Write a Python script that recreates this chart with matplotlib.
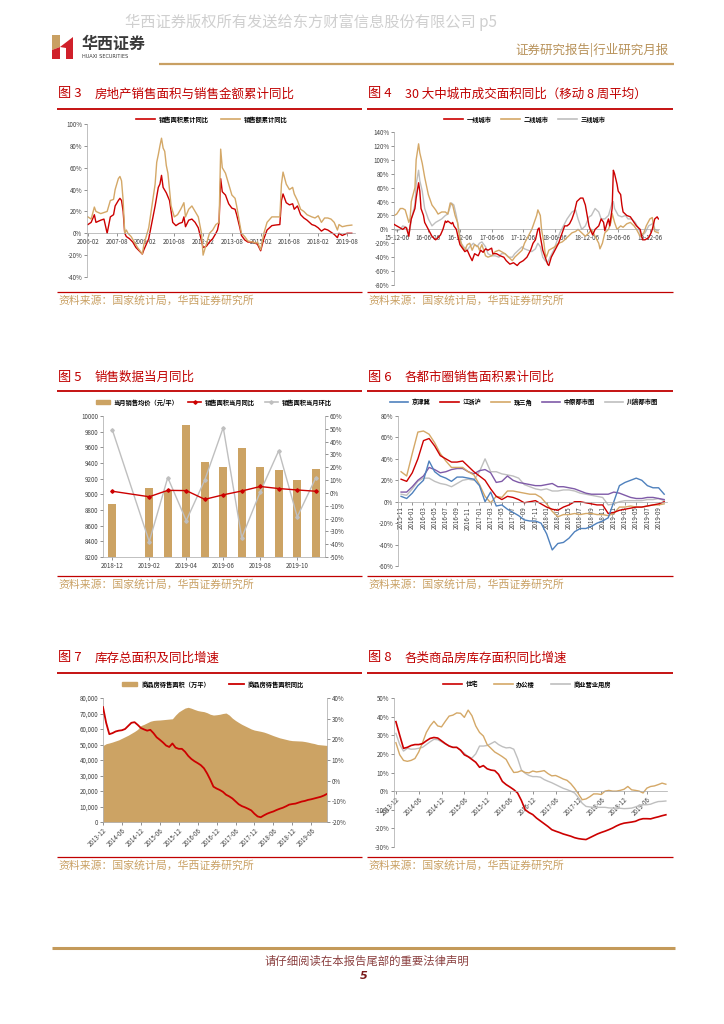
import matplotlib
matplotlib.use('Agg')
import matplotlib.pyplot as plt
import numpy as np
import pandas as pd
from matplotlib.lines import Line2D
from matplotlib.patches import Polygon, Patch
from matplotlib.ticker import FuncFormatter, MultipleLocator

plt.rcParams['font.family'] = ['Noto Sans CJK SC', 'DejaVu Sans']
plt.rcParams['axes.unicode_minus'] = False

# ---------------- data ----------------
# Fig 3 : months since 2006-02
fig3_tick_labels = ['2006-02', '2007-08', '2009-02', '2010-08', '2012-02', '2013-08',
                    '2015-02', '2016-08', '2018-02', '2019-08']
fig3_area_month = [0,2,4,5,8,10,12,14,16,17,19,20,21,22,23,24,26,28,30,32,34,35,38,40,42,44,45,46,47,49,
                   51,52,53,55,57,59,60,61,63,65,67,69,72,74,76,78,80,81,82,83,84,86,88,90,92,93,95,96,98,100,
                   103,106,108,110,112,115,117,120,121,122,124,126,128,129,131,133,135,137,140,142,
                   144,146,148,150,152,154,156,157,159,162,165]
fig3_area = [8,10,17,10,12,13,0,15,17,25,30,32,30,20,0,-3,-5,-8,-13,-16,-19,-15,-5,10,25,42,45,53,42,37,
             30,20,10,7,9,10,15,6,12,13,10,5,-13,-12,-8,-5,0,3,10,50,38,35,27,23,22,17,5,-2,-6,-8,
             -8,-10,-16,-5,3,7,7.5,8,30,36,28,26,27,22,25,17,14,12,8,7,
             5,2,4,3,1,-1,-4,0,-2,0,0]
fig3_amt_month = [0,2,4,5,8,10,12,13,14,16,17,19,20,21,22,23,24,25,27,29,31,33,34,35,38,40,42,43,44,45,
                  46,47,48,49,50,51,52,54,56,58,60,61,63,65,67,69,71,72,74,76,78,80,82,83,84,86,88,90,92,93,
                  95,96,98,100,103,105,106,108,110,112,115,117,120,121,122,124,126,128,129,131,
                  133,135,137,140,142,144,146,148,150,152,154,156,157,159,162,165]
fig3_amt = [15,13,24,20,18,19,20,25,30,31,40,50,52,48,30,0,3,0,-3,-8,-13,-17,-19,-10,5,25,45,65,72,80,
            87,78,75,62,55,40,25,15,17,22,28,15,22,25,20,15,0,-20,-10,0,3,8,10,77,60,55,45,35,32,25,
            8,0,-3,-7,-8,-9,-8,-15,0,10,15,15,15,45,56,45,40,42,36,30,
            22,20,17,15,14,16,10,14,14,13,10,3,8,6,7,7.5]

# Fig 4 : weeks since 2015-12-06
fig4_tick_labels = ['15-12-06', '16-06-06', '16-12-06', '17-06-06', '17-12-06',
                    '18-06-06', '18-12-06', '19-06-06', '19-12-06']
fig4_t1_week = [-2,0,3,5,7,8,10,11,12,15,16,18,19,20,22,23,26,29,32,34,36,38,40,41,42,45,46,47,49,51,
                52,54,56,58,60,62,64,67,69,71,73,75,78,79,82,85,88,90,93,96,99,101,104,107,110,112,114,116,117,118,
                120,122,124,125,127,130,133,136,138,140,142,144,146,148,151,153,155,156,158,159,
                161,163,166,168,170,171,173,174,175,177,178,179,181,182,184,185,186,189,192,195,
                197,200,202,204,207,209,210,212,214,215]
fig4_t1 = [7,5,2,0,3,2,-10,5,15,30,45,67,55,30,20,10,0,-10,-15,-12,-8,0,12,10,12,8,10,5,0,-15,
           -22,-27,-32,-30,-38,-45,-35,-38,-30,-33,-28,-30,-27,-35,-35,-38,-40,-45,-50,-48,-52,-48,-45,-40,-30,-20,-15,0,2,-10,
           -30,-40,-50,-52,-40,-30,-20,-5,5,5,8,15,25,40,45,45,35,25,5,0,
           -8,0,5,15,10,-2,10,15,5,30,85,80,65,55,50,35,25,20,18,10,
           5,0,-15,-15,-12,-5,0,15,18,15]
fig4_t2_week = [-2,0,3,5,7,10,11,12,15,16,18,19,21,23,26,29,32,34,37,40,42,44,46,48,50,52,54,56,58,60,
                62,64,67,68,70,73,75,78,81,84,86,89,92,95,97,100,103,105,108,111,113,115,116,118,119,121,122,123,125,127,
                130,133,136,138,141,144,147,149,152,155,158,160,163,166,167,169,171,174,176,177,
                179,181,184,186,189,192,195,197,200,203,205,208,210,211,212,215]
fig4_t2 = [20,22,30,30,28,10,15,40,60,100,123,110,95,75,50,35,28,22,25,25,22,38,35,20,10,-15,-25,-30,-22,-20,
           -30,-22,-25,-30,-22,-38,-40,-38,-32,-30,-32,-35,-40,-45,-40,-35,-30,-20,-10,0,10,20,28,20,0,-20,-35,-40,-30,-28,
           -25,-20,-18,-15,-10,-5,-3,0,-5,-10,-5,0,-10,-20,-28,-20,-5,0,10,23,
           10,0,5,3,8,10,5,0,-10,-5,5,15,17,5,-3,-5]
fig4_t3_week = [-2,0,3,5,8,10,11,12,15,16,18,19,21,23,26,29,32,34,37,40,42,45,47,49,51,53,55,58,60,63,
                66,68,70,73,75,78,81,84,86,89,92,95,97,100,103,105,108,111,114,116,118,120,122,124,126,129,132,134,137,140,
                142,144,147,149,152,155,158,160,163,166,168,171,174,177,178,179,182,185,188,190,
                193,196,199,201,204,207,210,211,212,214,215]
fig4_t3 = [0,-2,0,5,3,-5,0,15,35,65,85,70,55,30,15,5,10,12,15,20,22,38,35,20,0,-20,-25,-30,-25,-20,
           -25,-20,-18,-25,-35,-38,-38,-40,-35,-35,-40,-40,-35,-30,-25,-28,-30,-32,-28,-20,-25,-40,-45,-48,-40,-30,-15,-5,5,15,
           20,25,28,15,0,5,18,20,30,25,15,15,20,38,40,30,20,18,20,15,
           15,10,0,-10,-5,5,8,10,0,-2,-2]

# Fig 5
fig5_months = ['2018-12', '2019-01', '2019-02', '2019-03', '2019-04', '2019-05', '2019-06',
               '2019-07', '2019-08', '2019-09', '2019-10', '2019-11']
fig5_price = [8880, np.nan, 9080, 9040, 9880, 9410, 9345, 9590, 9350, 9310, 9185, 9320]
fig5_yoy = [1.3, np.nan, -3, 2, 1.8, -5, -1.5, 1.5, 5, 3.4, 2.3, 1.3]
fig5_mom = [49.4, np.nan, -38, 12, -21.6, 10, 51, -35, 0.8, 33, -18.7, 11.7]

# Fig 6 : monthly 2015-11 .. 2019-10
fig6_months = [p.strftime('%Y-%m') for p in pd.period_range('2015-11', '2019-10', freq='M')]
fig6_jjj = [5,3,8,15,20,38,28,24,22,19,23,23,22,21,15,0,9,-4,-3,-7,-10,-13,-17,-18,-18,-20,-30,-45,-39,-38,
            -34,-28,-25,-25,-23,-20,-18,-15,0,15,18,20,22,20,15,13,13,7]
fig6_jzh = [21,19,27,40,57,59,52,43,40,37,37,38,33,28,24,20,12,5,2,5,4,2,-1,0,1,-2,-5,-7,-8,-5,
            -3,0,0,-1,-2,-3,-3,-11,-10,-8,-7,-6,-5,-5,-4,-3,-2,0]
fig6_zsj = [28,24,45,65,66,63,55,45,38,32,32,32,28,25,16,5,-1,5,4,10,10,9,8,7,7,4,-2,-9,-14,-12,
            -12,-11,-12,-11,-11,-12,-12,-13,-11,-5,-5,-4,-5,-5,-4,-3,-3,-2]
fig6_zy = [9,9,14,20,24,32,30,27,28,30,31,31,28,26,29,30,27,18,19,24,20,18,17,16,15,15,16,17,14,14,
           13,12,10,8,7,7,7,7,9,8,6,4,3,3,4,4,3,2]
fig6_cy = [7,6,12,19,22,22,19,17,16,14,17,20,21,20,28,40,28,28,26,25,24,22,16,14,12,11,12,10,10,11,
           11,10,8,7,6,5,4,-3,-2,0,1,1,1,1,2,2,3,1]

# Fig 7 / Fig 8 : monthly 2013-12 .. 2019-11
inv_months = [p.strftime('%Y-%m') for p in pd.period_range('2013-12', '2019-11', freq='M')]
fig7_area = [49.3, 50.5,51.0,51.6,52.3,53.0,54.0,55.0,56.0,57.2,58.4,59.8,62.2,
             63.0,64.0,65.0,65.5,65.7,65.8,66.0,66.2,66.4,66.6,69.0,71.0,
             72.3,73.5,74.0,73.4,72.6,71.9,71.5,71.2,70.5,69.5,69.0,69.2,
             69.5,70.0,70.3,69.0,67.0,65.5,64.2,63.0,62.0,61.0,60.0,59.3,
             58.9,58.5,58.0,57.3,56.5,55.7,55.0,54.3,53.8,53.3,52.8,52.5,
             52.4,52.3,52.2,51.9,51.5,51.0,50.6,50.0,49.8,49.6,49.4]
fig7_area = [v * 1000 for v in fig7_area]
fig7_yoy = [35.6,28,22.5,23,23.8,24.2,24.4,25,26.5,28,28.3,27,25.5,24.8,24.2,24.6,23,21,19.8,18.5,
            17,16.3,18,16,15.4,15.4,14,12,10.5,9.4,8.5,7.5,6,3.5,0.5,-2.9,-3.8,-4.5,-5.4,-6.8,
            -7.6,-8.6,-10,-11.4,-12.3,-12.9,-13.6,-14.4,-16,-17.3,-17.7,-16.8,-16,-15.4,-14.9,-14.2,-13.6,-13.1,-12.4,-11.6,
            -11.3,-11.1,-10.6,-10.1,-9.8,-9.3,-9.0,-8.6,-8.2,-7.8,-7.2,-6.4]
fig8_res = [37.3,30,23,23.5,24.5,25,25,25.5,27,28.3,28.8,28.5,27,25.5,24.2,23.5,23.5,22,19.5,18.5,
            17,15.5,12.8,13.7,12,11.3,11,9,5.2,3.5,2.2,0.8,-1,-5,-10,-11.5,-12.6,-14.5,-16,-17.5,
            -19,-20.7,-21.5,-22.2,-23,-23.6,-24.2,-25,-25.5,-25.8,-26,-25,-24,-23,-22.2,-21.5,-20.7,-19.8,-18.7,-17.8,
            -17.2,-16.9,-16.6,-16.2,-15.3,-14.8,-14.8,-14.9,-14.3,-13.8,-13.2,-12.7]
fig8_off = [26,19.5,16.5,16,16.5,17.5,21,26,31.5,35,37.5,35,34.5,37.5,40.3,40.8,42,41.8,39.6,43.5,
            40.5,35,31.5,29.6,25,23,21,19.8,18.5,17,13.2,10,10.2,11,10,9.8,10.8,10.3,10.6,11,
            9.4,8.2,8.4,7.5,6.5,5.8,4,1.5,-1.5,-4.6,-4.2,-3,-1.5,-1.5,-1.8,0,0.4,0,0,0.4,
            1,2.5,0.7,0.4,0,-1,1.6,2.5,2.8,3.5,4.3,3.7]
fig8_com = [31,25,21.5,23,22.5,22.6,23,23.5,25,26.5,27.8,27.6,26.5,25.3,24.3,23.5,23.5,22,20.3,18.5,
            17.8,20,24.2,24.2,24.5,25.5,26.6,25,23.9,23.2,23.4,22.5,17.6,11.4,9.6,8.4,7.8,7.8,7.5,6.2,
            5.3,4.5,3.5,2.5,1.5,0.8,0,-1,-3.5,-6.5,-8.2,-8.5,-8.7,-8.7,-8.7,-8.7,-9,-9.1,-9.1,-9.2,
            -9.4,-9.3,-9.1,-8.5,-7.7,-7.3,-7.3,-7,-6.2,-5.6,-5.5,-5.3]

# ---------------- style ----------------
RED = '#CC0000'
TRED = '#C00000'
GOLD = '#D4A867'
AREA = '#CCA364'
GRAY = '#BFBFBF'
BLUE = '#4F81BD'
PURPLE = '#7F5AA8'
SRC = '#C9A063'
TICK = '#404040'

W, H = 724, 1024
fig = plt.figure(figsize=(W / 100, H / 100), dpi=100)


def add_ax(x0, y0, x1, y1):
    return fig.add_axes([x0 / W, 1 - y1 / H, (x1 - x0) / W, (y1 - y0) / H])


def hline(x0, x1, y, color, lw):
    fig.add_artist(Line2D([x0 / W, x1 / W], [1 - y / H, 1 - y / H], color=color, lw=lw,
                          transform=fig.transFigure, solid_capstyle='butt'))


def ftext(x, y, s, **kw):
    fig.text(x / W, 1 - y / H, s, **kw)


def fpoly(pts, color):
    fig.add_artist(Polygon([(x / W, 1 - y / H) for x, y in pts], closed=True, fc=color, ec='none',
                           transform=fig.transFigure))


def style(ax, zero_axis=False):
    for s in ['top', 'right']:
        ax.spines[s].set_visible(False)
    for s in ['left', 'bottom']:
        ax.spines[s].set_color('#A6A6A6')
        ax.spines[s].set_linewidth(0.5)
    if zero_axis:
        ax.spines['bottom'].set_position(('data', 0))
    ax.tick_params(labelsize=4.5, length=2, width=0.4, colors=TICK, pad=1.5)
    ax.patch.set_alpha(0)


pct = FuncFormatter(lambda v, p: f'{v:.0f}%')


def legend(ax, handles, labels, cx, cy, **kw):
    ax.legend(handles, labels, loc='center', bbox_to_anchor=(cx / W, 1 - cy / H),
              bbox_transform=fig.transFigure, ncol=len(labels), frameon=False,
              prop={'size': 4.5, 'weight': 'bold'}, handlelength=kw.get('hl', 3),
              columnspacing=kw.get('cs', 2.0), handletextpad=0.6, borderaxespad=0)


# ---------------- header / footer ----------------
ftext(125, 22, '华西证券版权所有发送给东方财富信息股份有限公司 p5', color='#CFCFCF', fontsize=11,
      va='center', ha='left', fontweight='light')
fpoly([(52, 35), (60, 35), (60, 47), (52, 50)], '#C9A063')
fpoly([(52, 50), (60, 47), (60, 59), (52, 59)], '#D0202A')
fpoly([(60, 47), (73, 37), (73, 59), (66, 59), (66, 48)], '#D0202A')
ftext(82, 44, '华西证券', color='#3A3A3A', fontsize=11.5, fontweight='bold', va='center', ha='left')
ftext(82, 56.5, 'HUAXI SECURITIES', color='#3A3A3A', fontsize=3.6, va='center', ha='left',
      family=['DejaVu Sans'])
ftext(669, 50, '证券研究报告|行业研究月报', color='#B8925A', fontsize=9, va='center', ha='right')
hline(159, 674, 64, '#C9A063', 1.6)

hline(52, 675, 948, '#C49A5A', 2.2)
ftext(367, 961, '请仔细阅读在本报告尾部的重要法律声明', color='#8B4040', fontsize=8.2, va='center', ha='center')
ftext(364, 976, '5', color='#7A1A1A', fontsize=8, fontweight='bold', fontstyle='italic',
      va='center', ha='center', family=['DejaVu Sans'])

SOURCE = '资料来源：国家统计局，华西证券研究所'


def frame(xl, xr, no, title, ty, ly, sly, sy):
    hline(xl, xr, ly, TRED, 1.3)
    hline(xl, xr, sly, TRED, 0.9)
    ftext(xl + 1, ty, '图 ' + no, color=TRED, fontsize=9.5, va='center', ha='left')
    ftext(xl + 38, ty, title, color=TRED, fontsize=9, va='center', ha='left')
    ftext(xl + 1, sy, SOURCE, color=SRC, fontsize=7.8, va='center', ha='left')


frame(57, 362, '3', '房地产销售面积与销售金额累计同比', 94, 109, 292, 301)
frame(367, 673, '4', '30 大中城市成交面积同比（移动 8 周平均）', 94, 109, 292, 301)
frame(57, 362, '5', '销售数据当月同比', 377, 391, 576, 585)
frame(367, 673, '6', '各都市圈销售面积累计同比', 377, 391, 576, 585)
frame(57, 362, '7', '库存总面积及同比增速', 658, 673, 857, 866)
frame(367, 673, '8', '各类商品房库存面积同比增速', 658, 673, 857, 866)

# ---------------- Fig 3 ----------------
ax = add_ax(87, 124, 355, 277)
style(ax, zero_axis=True)
ax.plot(fig3_area_month, fig3_area, color=RED, lw=1.0)
ax.plot(fig3_amt_month, fig3_amt, color=GOLD, lw=1.0)
ax.set_ylim(-40, 100)
ax.set_xlim(-0.6, 167)
ax.yaxis.set_major_locator(MultipleLocator(20))
ax.yaxis.set_major_formatter(pct)
ax.set_xticks(np.arange(len(fig3_tick_labels)) * 18)
ax.set_xticklabels(fig3_tick_labels)
legend(ax, [Line2D([], [], color=RED, lw=1.2), Line2D([], [], color=GOLD, lw=1.2)],
       ['销售面积累计同比', '销售额累计同比'], 212, 119)

# ---------------- Fig 4 ----------------
ax = add_ax(394, 132, 659, 285)
style(ax, zero_axis=True)
ax.plot(fig4_t1_week, fig4_t1, color=RED, lw=1.0, zorder=3)
ax.plot(fig4_t2_week, fig4_t2, color=GOLD, lw=1.0, zorder=2)
ax.plot(fig4_t3_week, fig4_t3, color=GRAY, lw=1.0, zorder=1)
ax.set_ylim(-80, 140)
ax.set_xlim(-2.2, 215.5)
ax.yaxis.set_major_locator(MultipleLocator(20))
ax.yaxis.set_major_formatter(pct)
ax.set_xticks(np.arange(len(fig4_tick_labels)) * 26)
ax.set_xticklabels(fig4_tick_labels)
legend(ax, [Line2D([], [], color=c, lw=1.2) for c in (RED, GOLD, GRAY)],
       ['一线城市', '二线城市', '三线城市'], 525, 119, cs=1.5)

# ---------------- Fig 5 ----------------
ax = add_ax(103, 416, 325, 557)
style(ax)
x5 = np.arange(len(fig5_months))
ax.bar(x5, fig5_price, width=0.42, color=AREA, zorder=1)
ax.set_ylim(8200, 10000)
ax.set_xlim(-0.5, len(fig5_months) - 0.5)
ax.yaxis.set_major_locator(MultipleLocator(200))
ax.set_xticks(x5[::2])
ax.set_xticklabels(fig5_months[::2])
ax2 = ax.twinx()
for s in ['top', 'left', 'bottom']:
    ax2.spines[s].set_visible(False)
ax2.spines['right'].set_color('#A6A6A6')
ax2.spines['right'].set_linewidth(0.5)
ax2.tick_params(labelsize=4.5, length=2, width=0.4, colors=TICK, pad=1.5)
yoy = pd.Series(fig5_yoy, index=x5).dropna()
mom = pd.Series(fig5_mom, index=x5).dropna()
ax2.plot(mom.index, mom.values, color=GRAY, lw=1.0, marker='D', ms=1.8, zorder=2)
ax2.plot(yoy.index, yoy.values, color=RED, lw=1.0, marker='D', ms=1.8, zorder=3)
ax2.set_ylim(-50, 60)
ax2.yaxis.set_major_locator(MultipleLocator(10))
ax2.yaxis.set_major_formatter(pct)
legend(ax2, [Patch(color=AREA), Line2D([], [], color=RED, lw=1.2, marker='D', ms=1.8),
             Line2D([], [], color=GRAY, lw=1.2, marker='D', ms=1.8)],
       ['当月销售均价（元/平）', '销售面积当月同比', '销售面积当月环比'], 214, 402, hl=2.2, cs=1.5)

# ---------------- Fig 6 ----------------
ax = add_ax(398, 416, 667, 566)
style(ax, zero_axis=True)
x6 = np.arange(len(fig6_months))
ax.plot(x6, fig6_cy, color=GRAY, lw=1.0)
ax.plot(x6, fig6_zy, color=PURPLE, lw=1.0)
ax.plot(x6, fig6_zsj, color=GOLD, lw=1.0)
ax.plot(x6, fig6_jzh, color=RED, lw=1.0)
ax.plot(x6, fig6_jjj, color=BLUE, lw=1.0)
ax.set_ylim(-60, 80)
ax.set_xlim(-0.55, 47.5)
ax.yaxis.set_major_locator(MultipleLocator(20))
ax.yaxis.set_major_formatter(pct)
ax.set_xticks(x6[::2])
ax.set_xticklabels(fig6_months[::2], rotation=90)
legend(ax, [Line2D([], [], color=c, lw=1.2) for c in (BLUE, RED, GOLD, PURPLE, GRAY)],
       ['京津冀', '江浙沪', '珠三角', '中原都市圈', '川渝都市圈'], 524, 402, cs=1.5)

# ---------------- Fig 7 ----------------
ax = add_ax(103, 698, 327, 822)
style(ax)
x7 = np.arange(len(inv_months))
ax.fill_between(x7, 0, fig7_area, color=AREA, lw=0, zorder=1)
ax.set_ylim(0, 80000)
ax.set_xlim(0, len(inv_months) - 1)
ax.yaxis.set_major_locator(MultipleLocator(10000))
ax.yaxis.set_major_formatter(FuncFormatter(lambda v, p: f'{v:,.0f}'))
ax.set_xticks(x7[::6])
ax.set_xticklabels(inv_months[::6], rotation=45, ha='right', rotation_mode='anchor')
ax2 = ax.twinx()
for s in ['top', 'left', 'bottom']:
    ax2.spines[s].set_visible(False)
ax2.spines['right'].set_color('#A6A6A6')
ax2.spines['right'].set_linewidth(0.5)
ax2.tick_params(labelsize=4.5, length=2, width=0.4, colors=TICK, pad=1.5)
ax2.plot(x7, fig7_yoy, color=RED, lw=1.3)
ax2.set_ylim(-20, 40)
ax2.yaxis.set_major_locator(MultipleLocator(10))
ax2.yaxis.set_major_formatter(pct)
legend(ax2, [Patch(color=AREA), Line2D([], [], color=RED, lw=1.3)],
       ['商品房待售面积（万平）', '商品房待售面积同比'], 213, 684, hl=2.5, cs=3)

# ---------------- Fig 8 ----------------
ax = add_ax(394, 698, 667, 847)
style(ax, zero_axis=True)
ax.plot(x7, fig8_com, color=GRAY, lw=1.0)
ax.plot(x7, fig8_off, color=GOLD, lw=1.0)
ax.plot(x7, fig8_res, color=RED, lw=1.2)
ax.set_ylim(-30, 50)
ax.set_xlim(-0.5, 71.3)
ax.yaxis.set_major_locator(MultipleLocator(10))
ax.yaxis.set_major_formatter(pct)
ax.set_xticks(x7[::6])
ax.set_xticklabels(inv_months[::6], rotation=45, ha='right', rotation_mode='anchor')
legend(ax, [Line2D([], [], color=c, lw=1.2) for c in (RED, GOLD, GRAY)],
       ['住宅', '办公楼', '商业营业用房'], 527, 684, cs=2.5)

fig.savefig('out.png', dpi=100)
